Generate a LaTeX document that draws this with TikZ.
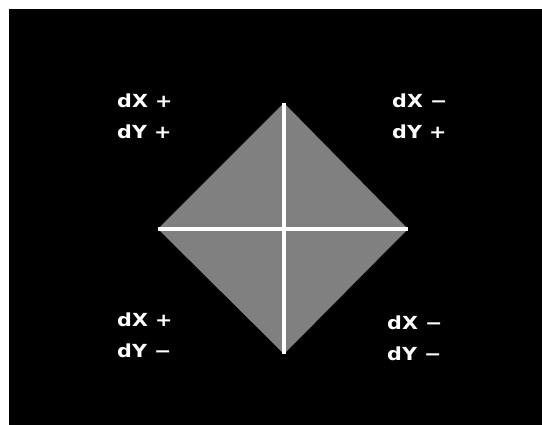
\documentclass[tikz,border=0pt]{standalone}
\usepackage{fontspec}
\newfontfamily\signfont[FakeStretch=1.15]{DejaVu Sans}
\usetikzlibrary{positioning}

\begin{document}
\begin{tikzpicture}[x=1pt,y=-1pt,
  sign/.style={anchor=base west,inner sep=0pt,text=white,
    font=\signfont\bfseries\fontsize{18}{20}\selectfont},
  axis/.style={white,line width=4pt}]
 \useasboundingbox (0,0) rectangle (542,425);
 \fill[white] (0,0) rectangle (542,425);
 \fill[black] (9,9) rectangle (542,425);
 % diamond
 \coordinate (top) at (284,103);
 \coordinate (right) at (408,229);
 \coordinate (bottom) at (284,354);
 \coordinate (left) at (158,229);
 \fill[black!50] (top) -- (right) -- (bottom) -- (left) -- cycle;
 \draw[axis] (top) -- (bottom);
 \draw[axis] (left) -- (right);
 % quadrant signs
 \node[sign] (tlx) at (117,108) {dX +};
 \node[sign] (tly) at (117,139) {dY +};
 \node[sign] (trx) at (392,108) {dX −};
 \node[sign] (try) at (392,139) {dY +};
 \node[sign] (blx) at (117,327) {dX +};
 \node[sign] (bly) at (117,358) {dY −};
 \node[sign] (brx) at (387,330) {dX −};
 \node[sign] (bry) at (387,361) {dY −};
\end{tikzpicture}
\end{document}
